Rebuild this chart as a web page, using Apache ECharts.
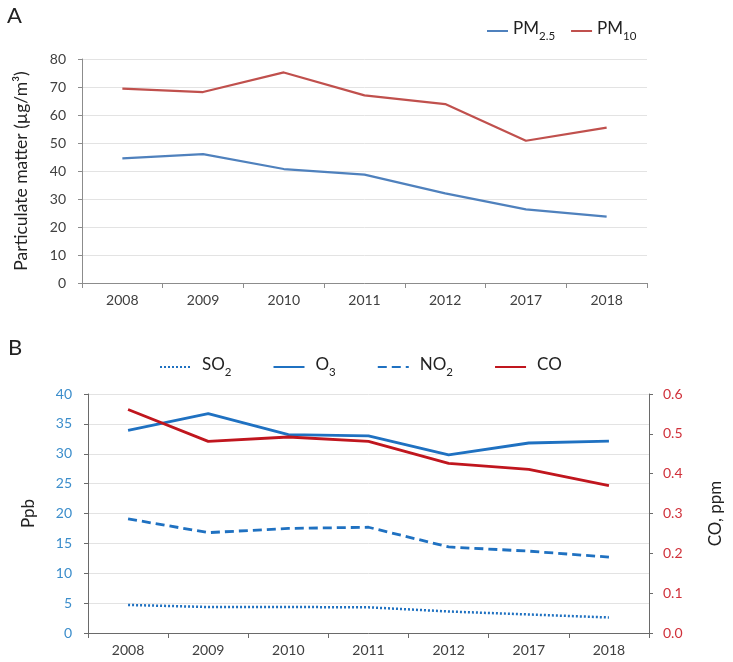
<!DOCTYPE html>
<html>
<head>
<meta charset="utf-8">
<script src="https://cdn.jsdelivr.net/npm/echarts@6/dist/echarts.min.js"></script>
<style>
	html, body { margin: 0; padding: 0; background: #fff; }
	#main { width: 733px; height: 662px; }
</style>
</head>
<body>
<div id="main"></div>
<script>
var years = ['2008', '2009', '2010', '2011', '2012', '2017', '2018'];
// 颗粒物 (A)
var pm25 = [44.5, 46.0, 40.7, 38.7, 32.0, 26.3, 23.7];
var pm10 = [69.4, 68.2, 75.2, 67.0, 63.9, 50.8, 55.5];
// 气体 (B), ppb
var so2 = [4.7, 4.35, 4.35, 4.3, 3.6, 3.1, 2.6];
var o3 = [33.9, 36.7, 33.2, 33.0, 29.8, 31.8, 32.1];
var no2 = [19.1, 16.8, 17.5, 17.7, 14.4, 13.7, 12.7];
// CO, ppm
var co = [0.561, 0.481, 0.492, 0.481, 0.426, 0.411, 0.370];

var font = 'Lato';
var dark = '#404040';
var blueB = '#1F71C1';
var redB = '#C0161E';

// 图例上的下标
var legendNames = {
	'PM2.5': '{n|PM}{s|2.5}',
	'PM10': '{n|PM}{s|10}',
	'SO2': '{n|SO}{s|2}',
	'O3': '{n|O}{s|3}',
	'NO2': '{n|NO}{s|2}',
	'CO': '{n|CO}'
};
var rich = {
	n: { fontFamily: font, fontSize: 17, color: '#222', lineHeight: 22, verticalAlign: 'top' },
	s: { fontFamily: font, fontSize: 11.5, color: '#222', lineHeight: 11, verticalAlign: 'bottom' }
};

function xAxisOf(gridIndex, lineColor) {
	return {
		type: 'category',
		gridIndex: gridIndex,
		data: years,
		boundaryGap: true,
		axisLine: { lineStyle: { color: lineColor, width: 1 } },
		axisTick: { show: true, length: 5, interval: 0, lineStyle: { color: lineColor } },
		axisLabel: { color: dark, fontFamily: font, fontSize: 14, margin: 10 }
	};
}

var chart = echarts.init(document.getElementById('main'), null, { renderer: 'canvas' });

var option = {
	backgroundColor: '#fff',
	animation: false,
	title: [
		{ text: 'A', left: 2, top: 0, textStyle: { fontFamily: font, fontSize: 22, fontWeight: 'normal', color: '#222' } },
		{ text: 'B', left: 3, top: 332, textStyle: { fontFamily: font, fontSize: 22, fontWeight: 'normal', color: '#222' } }
	],
	legend: [
		{
			data: ['PM2.5', 'PM10'],
			left: 481, top: 15,
			itemWidth: 21, itemHeight: 12, itemGap: 15,
			itemStyle: { opacity: 0 },
			formatter: function(name) { return legendNames[name]; },
			textStyle: { rich: rich }
		},
		{
			data: ['SO2', 'O3', 'NO2', 'CO'],
			left: 154, top: 351,
			itemWidth: 31, itemHeight: 12, itemGap: 41,
			itemStyle: { opacity: 0 },
			formatter: function(name) { return legendNames[name]; },
			textStyle: { rich: rich, padding: [0, 0, 0, 6] }
		}
	],
	grid: [
		{ left: 82, right: 86, top: 59, height: 224 },
		{ left: 88, right: 84, top: 394, height: 239 }
	],
	xAxis: [xAxisOf(0, '#8c8c8c'), xAxisOf(1, '#6a6a6a')],
	yAxis: [
		{
			type: 'value', gridIndex: 0, min: 0, max: 80, interval: 10,
			name: 'Particulate matter (µg/m³)', nameLocation: 'middle', nameGap: 52, nameRotate: 90,
			nameTextStyle: { fontFamily: font, fontSize: 17.5, color: '#222' },
			axisLine: { show: true, lineStyle: { color: '#8c8c8c' } },
			axisTick: { show: true, length: 4, lineStyle: { color: '#8c8c8c' } },
			axisLabel: { color: dark, fontFamily: font, fontSize: 14, margin: 16 },
			splitLine: { lineStyle: { color: '#e3e3e3' } }
		},
		{
			type: 'value', gridIndex: 1, min: 0, max: 40, interval: 5,
			name: 'Ppb', nameLocation: 'middle', nameGap: 51, nameRotate: 90,
			nameTextStyle: { fontFamily: font, fontSize: 17, color: '#222' },
			axisLine: { show: true, lineStyle: { color: '#6a6a6a' } },
			axisTick: { show: true, length: 4, lineStyle: { color: '#6a6a6a' } },
			axisLabel: { color: '#3B8DCB', fontFamily: font, fontSize: 14, margin: 16 },
			splitLine: { lineStyle: { color: '#e3e3e3' } }
		},
		{
			type: 'value', gridIndex: 1, position: 'right', min: 0, max: 0.6, interval: 0.1,
			name: 'CO, ppm', nameLocation: 'middle', nameGap: 58, nameRotate: 90,
			nameTextStyle: { fontFamily: font, fontSize: 17, color: '#222' },
			axisLine: { show: true, lineStyle: { color: '#6a6a6a' } },
			axisTick: { show: true, length: 4, lineStyle: { color: '#6a6a6a' } },
			axisLabel: {
				color: '#D0303A', fontFamily: font, fontSize: 14, margin: 14,
				formatter: function(v) { return v.toFixed(1); }
			},
			splitLine: { show: false }
		}
	],
	series: [
		{
			name: 'PM2.5', type: 'line', xAxisIndex: 0, yAxisIndex: 0, data: pm25,
			symbol: 'none', color: '#4F81BD', lineStyle: { color: '#4F81BD', width: 2.2 }
		},
		{
			name: 'PM10', type: 'line', xAxisIndex: 0, yAxisIndex: 0, data: pm10,
			symbol: 'none', color: '#C0504D', lineStyle: { color: '#C0504D', width: 2.2 }
		},
		{
			name: 'SO2', type: 'line', xAxisIndex: 1, yAxisIndex: 1, data: so2,
			symbol: 'none', color: blueB, lineStyle: { color: blueB, width: 2.5, type: [2, 2] }
		},
		{
			name: 'O3', type: 'line', xAxisIndex: 1, yAxisIndex: 1, data: o3,
			symbol: 'none', color: blueB, lineStyle: { color: blueB, width: 2.8 }
		},
		{
			name: 'NO2', type: 'line', xAxisIndex: 1, yAxisIndex: 1, data: no2,
			symbol: 'none', color: blueB, lineStyle: { color: blueB, width: 2.8, type: [9, 5] }
		},
		{
			name: 'CO', type: 'line', xAxisIndex: 1, yAxisIndex: 2, data: co,
			symbol: 'none', color: redB, lineStyle: { color: redB, width: 2.8 }
		}
	]
};

chart.setOption(option);
</script>
</body>
</html>
